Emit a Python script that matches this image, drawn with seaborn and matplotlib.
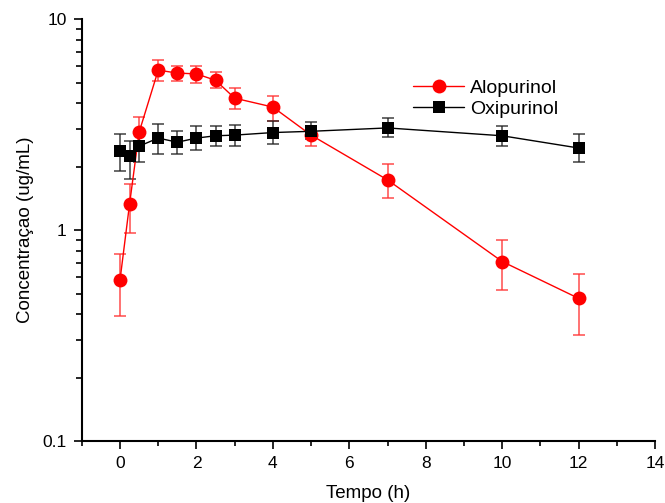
import numpy as np
import pandas as pd
import seaborn as sns
import matplotlib.pyplot as plt

tempo = [0, 0.25, 0.5, 1, 1.5, 2, 2.5, 3, 4, 5, 7, 10, 12]

alo = [0.58, 1.33, 2.91, 5.73, 5.55, 5.5, 5.13, 4.22, 3.83, 2.82, 1.73, 0.71, 0.475]
alo_lo = [0.39, 0.97, 2.40, 5.10, 5.10, 5.00, 4.70, 3.75, 3.30, 2.50, 1.42, 0.52, 0.32]
alo_hi = [0.77, 1.65, 3.45, 6.40, 6.00, 6.00, 5.60, 4.70, 4.30, 3.10, 2.05, 0.90, 0.62]

oxi = [2.37, 2.24, 2.5, 2.73, 2.61, 2.73, 2.8, 2.82, 2.9, 2.94, 3.05, 2.8, 2.45]
oxi_lo = [1.90, 1.75, 2.10, 2.30, 2.30, 2.40, 2.50, 2.50, 2.55, 2.70, 2.75, 2.50, 2.10]
oxi_hi = [2.85, 2.65, 2.95, 3.20, 2.95, 3.10, 3.10, 3.15, 3.30, 3.25, 3.40, 3.10, 2.85]

df = pd.DataFrame({
    'Tempo': tempo * 2,
    'Conc': alo + oxi,
    'Serie': ['Alopurinol'] * len(tempo) + ['Oxipurinol'] * len(tempo),
})

sns.set_theme(style="ticks")
plt.rcParams['font.family'] = ['Liberation Sans', 'DejaVu Sans']

fig = plt.figure(figsize=(6.65, 5.03), dpi=100)
ax = fig.add_axes([0.123, 0.123, 0.862, 0.839])
ax.spines[['top', 'right']].set_visible(False)

# error bars first, markers on top
ax.errorbar(tempo, alo, yerr=[np.array(alo) - np.array(alo_lo), np.array(alo_hi) - np.array(alo)],
            fmt='none', ecolor='#ff3030', elinewidth=1.2, capsize=4, capthick=1.2, alpha=0.8, zorder=2)
ax.errorbar(tempo, oxi, yerr=[np.array(oxi) - np.array(oxi_lo), np.array(oxi_hi) - np.array(oxi)],
            fmt='none', ecolor='#222222', elinewidth=1.2, capsize=4, capthick=1.2, alpha=0.8, zorder=2)

sns.lineplot(data=df, x='Tempo', y='Conc', hue='Serie', style='Serie',
             palette={'Alopurinol': 'red', 'Oxipurinol': 'black'},
             markers={'Alopurinol': 'o', 'Oxipurinol': 's'}, dashes=False,
             markersize=10, markeredgewidth=0, linewidth=1, ax=ax, zorder=3)
for ln in ax.get_lines():
    if ln.get_marker() == 's':
        ln.set_markersize(8.5)

ax.set_yscale('log')
ax.set_ylim(0.1, 10)
ax.set_xlim(-1, 14)
ax.set_xticks([0, 2, 4, 6, 8, 10, 12, 14])
ax.set_xticks(list(range(-1, 14, 2)), minor=True)
ax.set_yticks([0.1, 1, 10], labels=['0.1', '1', '10'])
minor_y = [m * d for d in (0.1, 1) for m in range(2, 10)]
ax.set_yticks(minor_y, labels=[''] * len(minor_y), minor=True)
ax.tick_params(which='major', length=6, width=1.2, labelsize=12.5, colors='black', pad=5)
ax.tick_params(axis='x', which='minor', length=3.5, width=1.2, color='black', bottom=True)
ax.tick_params(axis='y', which='minor', length=4, width=1.2, color='black', left=True)
for s in ['left', 'bottom']:
    ax.spines[s].set_linewidth(1.5)
    ax.spines[s].set_color('black')

ax.set_xlabel('Tempo (h)', fontsize=13.5, labelpad=10, color='black')
ax.set_ylabel('Concentraçao (ug/mL)', fontsize=13.5, labelpad=6, color='black')

leg = ax.legend(title=None, frameon=False, fontsize=14, loc='upper left',
                bbox_to_anchor=(0.565, 0.875), handlelength=2.6, borderaxespad=0,
                labelspacing=0.15, handletextpad=0.3)
for h in leg.legend_handles:
    h.set_markeredgewidth(0)
for t in leg.get_texts():
    t.set_color('black')

fig.savefig('out.png', dpi=100)
